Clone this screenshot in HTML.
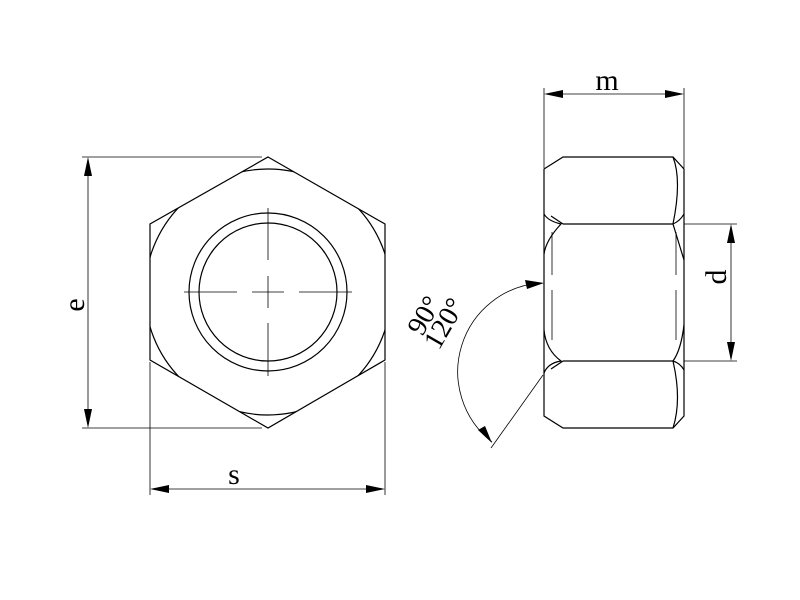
<!DOCTYPE html>
<html><head><meta charset="utf-8"><style>html,body{margin:0;padding:0;background:#fff}svg{display:block}</style></head>
<body>
<svg width="800" height="600" viewBox="0 0 800 600" xmlns="http://www.w3.org/2000/svg" font-family="Liberation Serif, serif">
<g fill="none" stroke="#000" stroke-width="1.2">
<circle cx="268" cy="292" r="123"/>
<circle cx="268" cy="292" r="79"/>
<circle cx="268" cy="292" r="69"/>
</g>
<g stroke="#000" stroke-width="0.8" fill="none">
<line x1="184" y1="292" x2="237" y2="292"/><line x1="252" y1="292" x2="284" y2="292"/><line x1="299" y1="292" x2="352" y2="292"/>
<line x1="268" y1="208" x2="268" y2="260"/><line x1="268" y1="276" x2="268" y2="308"/><line x1="268" y1="323" x2="268" y2="376"/>
<line x1="88" y1="160" x2="88" y2="425"/>
<line x1="152" y1="489" x2="383" y2="489"/>
<line x1="544" y1="88" x2="544" y2="168"/><line x1="684" y1="88" x2="684" y2="168"/>
<line x1="546" y1="94" x2="682" y2="94"/>
<line x1="684" y1="224" x2="737" y2="224"/><line x1="684" y1="361" x2="737" y2="361"/>
<line x1="731" y1="226" x2="731" y2="359"/>
<path d="M541,283 A89,89 0 0 0 492,442"/>
<line x1="491" y1="448" x2="543" y2="375"/>
<line x1="552" y1="232" x2="552" y2="275"/><line x1="552" y1="290" x2="552" y2="340"/>
<line x1="676" y1="232" x2="676" y2="275"/><line x1="676" y1="290" x2="676" y2="340"/>
</g>
<path fill="#fff" fill-rule="evenodd" d="M140,147 H396 V438 H140 Z M268,157 385,224 385,360 268,428 150,360 150,224 Z"/>
<polygon points="268,157 385,224 385,360 268,428 150,360 150,224" fill="none" stroke="#000" stroke-width="1.2"/>
<g stroke="#000" stroke-width="0.8">
<line x1="82" y1="157" x2="262" y2="157"/><line x1="82" y1="428" x2="262" y2="428"/>
<line x1="150" y1="362" x2="150" y2="495"/><line x1="385" y1="362" x2="385" y2="495"/>
</g>
<g fill="none" stroke="#000" stroke-width="1.2">
<path d="M544,169 L563,157 H673 L684,169 V416 L673,428 H563 L544,416 Z"/>
<line x1="563" y1="224" x2="673" y2="224"/>
<line x1="563" y1="361" x2="673" y2="361"/>
<path d="M544,214 Q548,221 561,224 Q546,240 544,254"/>
<path d="M544,330 Q546,350 561,361 Q548,363 544,373"/>
<path d="M684,214 Q680,221 673,224 Q681,250 684,260"/>
<path d="M684,325 Q681,350 673,361 Q680,363 684,370"/>
<path d="M673,157 Q682,180 673,224"/>
<path d="M673,361 Q682,400 673,428"/>
<path d="M563,224 L551,216 M563,361 L551,369"/>
</g>
<g fill="#000">
<polygon points="88,157 84,176 92,176"/><polygon points="88,428 84,409 92,409"/>
<polygon points="150,489 169,485 169,493"/><polygon points="385,489 366,485 366,493"/>
<polygon points="544,94 563,90 563,98"/><polygon points="684,94 665,90 665,98"/>
<polygon points="731,224 727,243 735,243"/><polygon points="731,361 727,342 735,342"/>
<polygon points="544,283 525,280 527,289"/><polygon points="492,443 478,430 485,426"/>
</g>
<g font-size="30" fill="#000">
<text x="234" y="484" text-anchor="middle">s</text>
<text x="607" y="90" text-anchor="middle">m</text>
<text transform="translate(84,305) rotate(-90)" text-anchor="middle">e</text>
<text transform="translate(726,277) rotate(-90)" text-anchor="middle">d</text>
<text font-size="28" transform="translate(432,320) rotate(-60)" text-anchor="middle">90°</text>
<text font-size="28" transform="translate(452,328) rotate(-60)" text-anchor="middle">120°</text>
</g>
</svg>
</body></html>
